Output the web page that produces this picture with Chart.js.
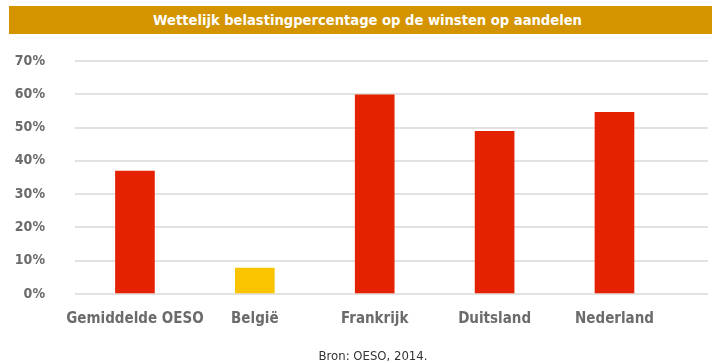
<!DOCTYPE html>
<html>
<head>
<meta charset="utf-8">
<script src="https://cdn.jsdelivr.net/npm/chart.js@4/dist/chart.umd.min.js"></script>
<style>
  body { margin: 0; width: 712px; height: 363px; background: #fff; overflow: hidden; position: relative; font-family: "DejaVu Sans Condensed", "DejaVu Sans", sans-serif; }
  .title-bar {
    position: absolute; left: 9px; top: 6px; width: 689px; height: 28px; padding-left: 14px;
    background: #d39400; color: #fff; font-weight: bold; font-size: 14.6px;
    line-height: 28px; text-align: center;
  }
  #chart { position: absolute; left: 0; top: 34px; }
  .source {
    position: absolute; left: 273px; top: 348px; width: 200px; text-align: center;
    font-family: "DejaVu Sans Condensed", sans-serif; font-size: 13px; color: #333;
  }
</style>
</head>
<body>
<div class="title-bar">Wettelijk belastingpercentage op de winsten op aandelen</div>
<canvas id="chart" width="712" height="329"></canvas>
<div class="source">Bron: OESO, 2014.</div>
<script>
const categories = ['Gemiddelde OESO', 'België', 'Frankrijk', 'Duitsland', 'Nederland'];
const rates = [36.9, 7.8, 59.8, 48.9, 54.6];
const barColors = ['#e52200', '#fac400', '#e52200', '#e52200', '#e52200'];

const labelFont = { family: '"DejaVu Sans Condensed", sans-serif', size: 15, weight: 'bold' };

new Chart(document.getElementById('chart').getContext('2d'), {
  type: 'bar',
  data: {
    datasets: [{
      label: 'Belastingpercentage',
      data: categories.map((c, i) => ({ x: i, y: rates[i] })),
      backgroundColor: barColors,
      barThickness: 39
    }]
  },
  options: {
    responsive: false, animation: false,
    layout: { padding: { top: 27, right: 4, left: 0, bottom: 0 } },
    scales: {
      // linear index axis so the grid can run past the last bar
      x: {
        type: 'linear', min: -0.5, max: 4.78, offset: false,
        afterBuildTicks: scale => { scale.ticks = categories.map((c, i) => ({ value: i })); },
        afterFit: scale => { scale.height = 69; },
        grid: { display: false, offset: false },
        border: { display: false },
        ticks: {
          padding: 8, color: '#6b6b6b', font: labelFont, maxRotation: 0, autoSkip: false,
          callback: v => categories[v] ?? ''
        }
      },
      y: {
        type: 'linear', min: 0, max: 70,
        afterFit: scale => {
          scale.width = 75;
          // tick padding would otherwise push the plot area down
          scale.paddingTop = 8;
          scale.paddingBottom = 8;
        },
        grid: { color: '#e2e2e2', lineWidth: 2, drawTicks: false },
        border: { display: false },
        ticks: {
          stepSize: 10, padding: 30, color: '#6b6b6b', font: { ...labelFont, size: 14 },
          callback: v => v + '%'
        }
      }
    },
    plugins: {
      legend: { display: false },
      title: { display: false },
      tooltip: { enabled: false }
    }
  }
});
</script>
</body>
</html>
